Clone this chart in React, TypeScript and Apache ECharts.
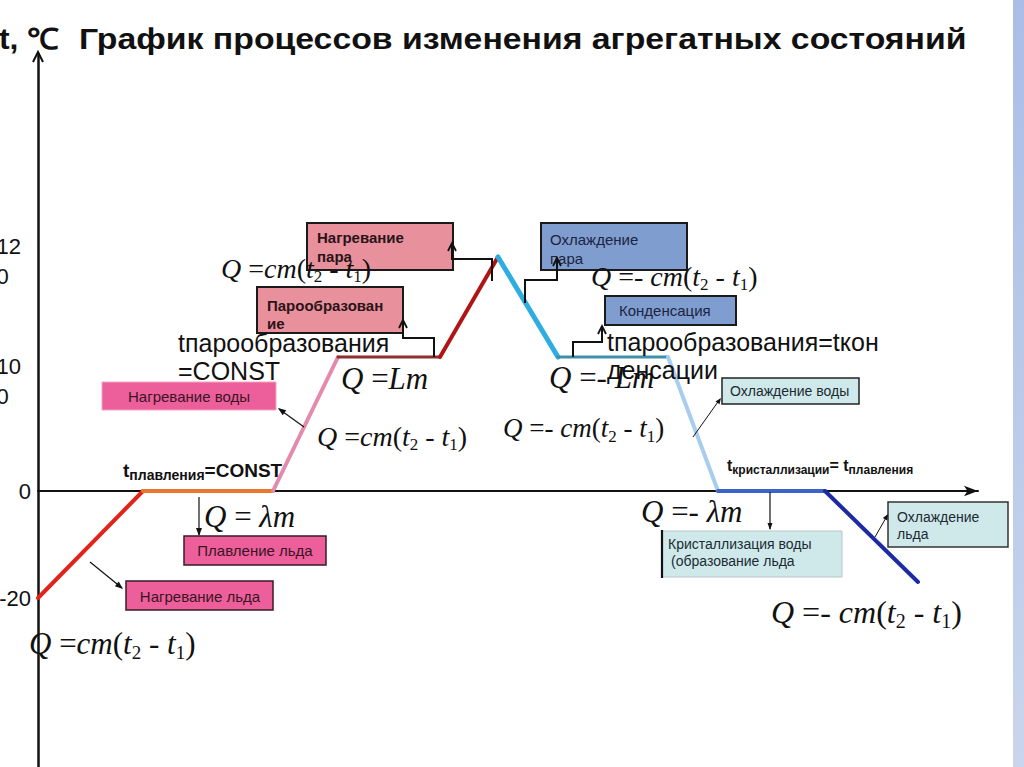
import React, { useEffect, useRef } from 'react';
import * as echarts from 'echarts';

// ---- data ----
const stageNames = [
  'Нагревание льда', 'Плавление льда', 'Нагревание воды', 'Парообразование', 'Нагревание пара',
  'Охлаждение пара', 'Конденсация', 'Охлаждение воды', 'Кристаллизация воды', 'Охлаждение льда',
];
const timePoints = [0, 10.5, 23.5, 30, 40.2, 46, 52, 63, 68, 78.7, 88];
const temperatures = [-20, 0, 0, 100, 100, 120, 100, 100, 0, 0, -17];
const tempTicks = [-20, 0, 100, 120];
const tickLabels = ['-20', '0', '100', '120'];

// ---- styles ----
const stageColors = ['#e2231a', '#e8782e', '#e48aac', '#8e2f2f', '#b01515', '#2eaee0', '#3f8fa8', '#a9cdef', '#3b63c9', '#1c2aa6'];
const stageWidths = [4, 4, 4, 3, 4, 5, 3, 4, 4, 4];

// schematic (non-linear) vertical scale used on the slide: temperature anchors -> axis level
const scaleTemps = [-20, 0, 100, 120];
const scaleLevels = [-107, 0, 134, 234];
function level(t: number): number {
  let i = 0;
  if (t > scaleTemps[scaleTemps.length - 1]) i = scaleTemps.length - 2;
  else { for (i = 0; i < scaleTemps.length - 2; i++) if (t <= scaleTemps[i + 1]) break; }
  const t0 = scaleTemps[i], t1 = scaleTemps[i + 1], l0 = scaleLevels[i], l1 = scaleLevels[i + 1];
  return l0 + ((t - t0) * (l1 - l0)) / (t1 - t0);
}

const SANS = 'Liberation Sans, Arial, sans-serif';
const SERIF = 'Liberation Serif, Times New Roman, serif';

function formulaRich(size: number) {
  const lh = size + 6;
  const sub = Math.round(size * 0.62);
  return {
    i: { fontFamily: SERIF, fontStyle: 'italic', fontSize: size, lineHeight: lh, fill: '#111' },
    n: { fontFamily: SERIF, fontSize: size, lineHeight: lh, fill: '#111' },
    s: { fontFamily: SERIF, fontSize: sub, lineHeight: sub, verticalAlign: 'bottom', fill: '#111' },
  };
}
const cmText = '{i|Q }{n|=}{i|cm}{n|(}{i|t}{s|2}{n| - }{i|t}{s|1}{n|)}';
const negCmText = '{i|Q }{n|=- }{i|cm}{n|(}{i|t}{s|2}{n| - }{i|t}{s|1}{n|)}';

const formula = (x: number, y: number, text: string, size: number) => ({
  type: 'text', x, y, z: 11,
  style: { text, rich: formulaRich(size), fontFamily: SERIF, fontSize: size, textAlign: 'left', textVerticalAlign: 'middle', fill: '#111' },
});
const rect = (x: number, y: number, w: number, h: number, fill: string, stroke: string, lw: number) => ({
  type: 'rect', z: 10, shape: { x, y, width: w, height: h }, style: { fill, stroke, lineWidth: lw },
});
const txt = (x: number, y: number, text: string, opts: any = {}) => ({
  type: 'text', x, y, z: 11,
  style: { text, fontFamily: SANS, fontSize: 15, fill: '#222', textAlign: 'left', textVerticalAlign: 'middle', ...opts },
});
const pl = (pts: number[][], w = 2) => ({
  type: 'polyline', z: 12, shape: { points: pts }, style: { stroke: '#111', lineWidth: w, fill: null },
});
const head = (x1: number, y1: number, x2: number, y2: number, len = 8, half = 3.2) => {
  const dx = x2 - x1, dy = y2 - y1; const L = Math.hypot(dx, dy); const ux = dx / L, uy = dy / L;
  const bx = x2 - ux * len, by = y2 - uy * len;
  return { type: 'polygon', z: 12, shape: { points: [[x2, y2], [bx - uy * half, by + ux * half], [bx + uy * half, by - ux * half]] }, style: { fill: '#111' } };
};
const chev = (x: number, y: number) => pl([[x - 4, y + 8], [x, y], [x + 4, y + 8]], 1.8);

const boldSubRich = (main: number, sub: number) => ({
  b: { fontFamily: SANS, fontWeight: 'bold', fontSize: main, lineHeight: main + 5, fill: '#111' },
  bs: { fontFamily: SANS, fontWeight: 'bold', fontSize: sub, lineHeight: sub + 2, verticalAlign: 'bottom', fill: '#111' },
});

const graphics: any[] = [
  // slide edge strip
  { type: 'rect', z: 0, shape: { x: 1013, y: 0, width: 11, height: 767 },
    style: { fill: new echarts.graphic.LinearGradient(0, 0, 0, 1, [{ offset: 0, color: '#aabde6' }, { offset: 1, color: '#c9d5ec' }]) } },
  // title
  { type: 'text', x: -1, y: 39, z: 11, scaleX: 1.1, style: { text: 't, ℃', fontFamily: SANS, fontWeight: 'bold', fontSize: 29, fill: '#111', textVerticalAlign: 'middle' } },
  { type: 'text', x: 79, y: 39, z: 11, scaleX: 1.165, style: { text: 'График процессов изменения агрегатных состояний', fontFamily: SANS, fontWeight: 'bold', fontSize: 29, fill: '#111', textVerticalAlign: 'middle' } },
  // y axis arrow head
  pl([[33, 62], [38, 52], [43, 62]], 2),

  // boxes
  rect(307, 223, 146, 47, '#e8909c', '#1a1a1a', 2),
  txt(317, 237, 'Нагревание', { fontWeight: 'bold', fontSize: 15, fill: '#2a1418' }),
  txt(317, 256, 'пара', { fontWeight: 'bold', fontSize: 15, fill: '#2a1418' }),
  rect(257, 287, 146, 46, '#e8909c', '#1a1a1a', 2),
  txt(267, 305, 'Парообразован', { fontWeight: 'bold', fontSize: 15, fill: '#2a1418' }),
  txt(267, 323, 'ие', { fontWeight: 'bold', fontSize: 15, fill: '#2a1418' }),
  rect(102, 382, 174, 28, '#ec5f9a', '#f3a5c4', 1),
  txt(189, 396, 'Нагревание воды', { textAlign: 'center', fill: '#3a1424' }),
  rect(184, 536, 142, 29, '#ec5f9a', '#3a1a25', 1.5),
  txt(255, 550, 'Плавление льда', { textAlign: 'center', fill: '#3a1424' }),
  rect(126, 581, 147, 29, '#ec5f9a', '#3a1a25', 1.5),
  txt(200, 596, 'Нагревание льда', { textAlign: 'center', fill: '#3a1424' }),

  rect(541, 223, 146, 47, '#7f9dcf', '#1a1a1a', 2),
  txt(550, 239, 'Охлаждение', { fill: '#1c2440' }),
  txt(550, 258, 'пара', { fill: '#1c2440' }),
  rect(605, 296, 131, 29, '#7f9dcf', '#1a1a1a', 2),
  txt(619, 310, 'Конденсация', { fill: '#1c2440' }),
  rect(722, 378, 137, 26, '#cfe9ea', '#222', 1.5),
  txt(730, 391, 'Охлаждение воды', { fontSize: 14, fill: '#1c2a33' }),
  rect(662, 531, 180, 46, '#cfe9ea', '#b8c4c6', 1),
  pl([[662, 530], [662, 578]], 2.2),
  txt(668, 544, 'Кристаллизация воды', { fontSize: 14, fill: '#1c2a33' }),
  txt(671, 561, '(образование льда', { fontSize: 14, fill: '#1c2a33' }),
  rect(888, 502, 120, 45, '#cfe9ea', '#333', 1.5),
  txt(897, 517, 'Охлаждение', { fontSize: 14, fill: '#1c2a33' }),
  txt(897, 534, 'льда', { fontSize: 14, fill: '#1c2a33' }),

  // connectors
  pl([[492, 281], [492, 259], [452, 259], [452, 244]], 2), chev(452, 243),
  pl([[434, 357], [434, 338], [403, 338], [403, 321]], 2), chev(403, 320),
  pl([[525, 303], [525, 280], [557, 280], [557, 259]], 2), chev(557, 258),
  pl([[573, 357], [573, 342], [602, 342], [602, 327]], 2), chev(602, 326),
  pl([[693, 437], [720, 399]], 1), head(693, 437, 721, 398, 6, 2.5),
  pl([[304, 427], [279, 409]], 1.2), head(304, 427, 278, 408, 8, 3),
  pl([[90, 562], [122, 588]], 1.2), head(90, 562, 123, 589, 8, 3),
  pl([[199, 497], [199, 535]], 1.2), head(199, 497, 199, 536, 8, 3),
  pl([[770, 492], [770, 529]], 1.2), head(770, 492, 770, 530, 7, 2.5),
  pl([[875, 537], [887, 516]], 1), head(875, 537, 888, 514, 6, 2.5),

  // formulas
  formula(29, 643, cmText, 31),
  formula(221, 268, cmText, 28),
  formula(341, 378, '{i|Q }{n|=}{i|Lm}', 31),
  formula(317, 436, cmText, 28),
  formula(204, 516, '{i|Q }{n|= }{i|λm}', 31),
  formula(591, 276, negCmText, 28),
  formula(549, 377, '{i|Q }{n|=- }{i|Lm}', 31),
  formula(503, 428, negCmText, 27),
  formula(641, 511, '{i|Q }{n|=- }{i|λm}', 31),
  formula(771, 612, negCmText, 32),

  // plain texts
  { type: 'text', x: 178, y: 329, z: 11, style: { text: 'tпарообразования\n=CONST', fontFamily: SANS, fontSize: 25, lineHeight: 28, fill: '#111', textVerticalAlign: 'top' } },
  { type: 'text', x: 607, y: 328, z: 11, style: { text: 'tпарообразования=tкон\nденсации', fontFamily: SANS, fontSize: 25, lineHeight: 28, fill: '#111', textVerticalAlign: 'top' } },
  { type: 'text', x: 123, y: 470, z: 11, style: { text: '{b|t}{bs|плавления}{b|=CONST}', rich: boldSubRich(19, 14), fontFamily: SANS, textVerticalAlign: 'middle' } },
  { type: 'text', x: 727, y: 465, z: 11, style: { text: '{b|t}{bs|кристаллизации}{b|= t}{bs|плавления}', rich: boldSubRich(16, 12), fontFamily: SANS, textVerticalAlign: 'middle' } },
];

const series = stageNames.map((name, i) => ({
  type: 'line',
  name,
  data: [
    [timePoints[i], level(temperatures[i])],
    [timePoints[i + 1], level(temperatures[i + 1])],
  ],
  symbol: 'none',
  silent: true,
  z: 3,
  lineStyle: { color: stageColors[i], width: stageWidths[i], cap: 'round' },
}));

const tickValues = tempTicks.map(level);

const option: any = {
  animation: false,
  backgroundColor: '#ffffff',
  grid: { left: 38, right: 46, top: 54, bottom: 0, containLabel: false, outerBoundsMode: 'none' },
  xAxis: {
    type: 'value', min: 0, max: 94,
    axisLine: { show: true, onZero: true, symbol: ['none', 'arrow'], symbolSize: [8, 14], lineStyle: { color: '#111', width: 2 } },
    axisTick: { show: false }, axisLabel: { show: false }, splitLine: { show: false },
  },
  yAxis: {
    type: 'value', min: -276, max: 437,
    axisLine: { show: true, lineStyle: { color: '#111', width: 2.5 } },
    axisTick: { show: false },
    splitLine: { show: false },
    axisLabel: {
      customValues: tickValues,
      margin: 7,
      align: 'right',
      formatter: (v: number) => {
        const idx = tickValues.findIndex((t) => Math.abs(t - v) < 1e-6);
        const lab = idx >= 0 ? tickLabels[idx] : '';
        if (lab.length === 3 && lab[0] !== '-') {
          const sp = tempTicks[idx] === 100 ? 'spB' : 'spA';
          return `{${sp}| }\n{w|${lab.slice(0, 2)}}{g| }\n{w|${lab.slice(2)}}`;
        }
        return `{w|${lab}}`;
      },
      rich: {
        w: { fontFamily: SANS, fontSize: 22, lineHeight: 30, align: 'left', color: '#111' },
        g: { width: 10, fontSize: 22, lineHeight: 30 },
        spA: { fontSize: 4, lineHeight: 8 },
        spB: { fontSize: 4, lineHeight: 48 },
      },
    },
  },
  series,
  graphic: { elements: graphics },
};

export default function App() {
  const ref = useRef<HTMLDivElement>(null);
  useEffect(() => {
    const chart = echarts.init(ref.current!, null, { renderer: 'svg' });
    chart.setOption(option);
    return () => chart.dispose();
  }, []);
  return <div ref={ref} style={{ position: 'absolute', left: 0, top: 0, width: 1024, height: 767, background: '#fff' }} />;
}
